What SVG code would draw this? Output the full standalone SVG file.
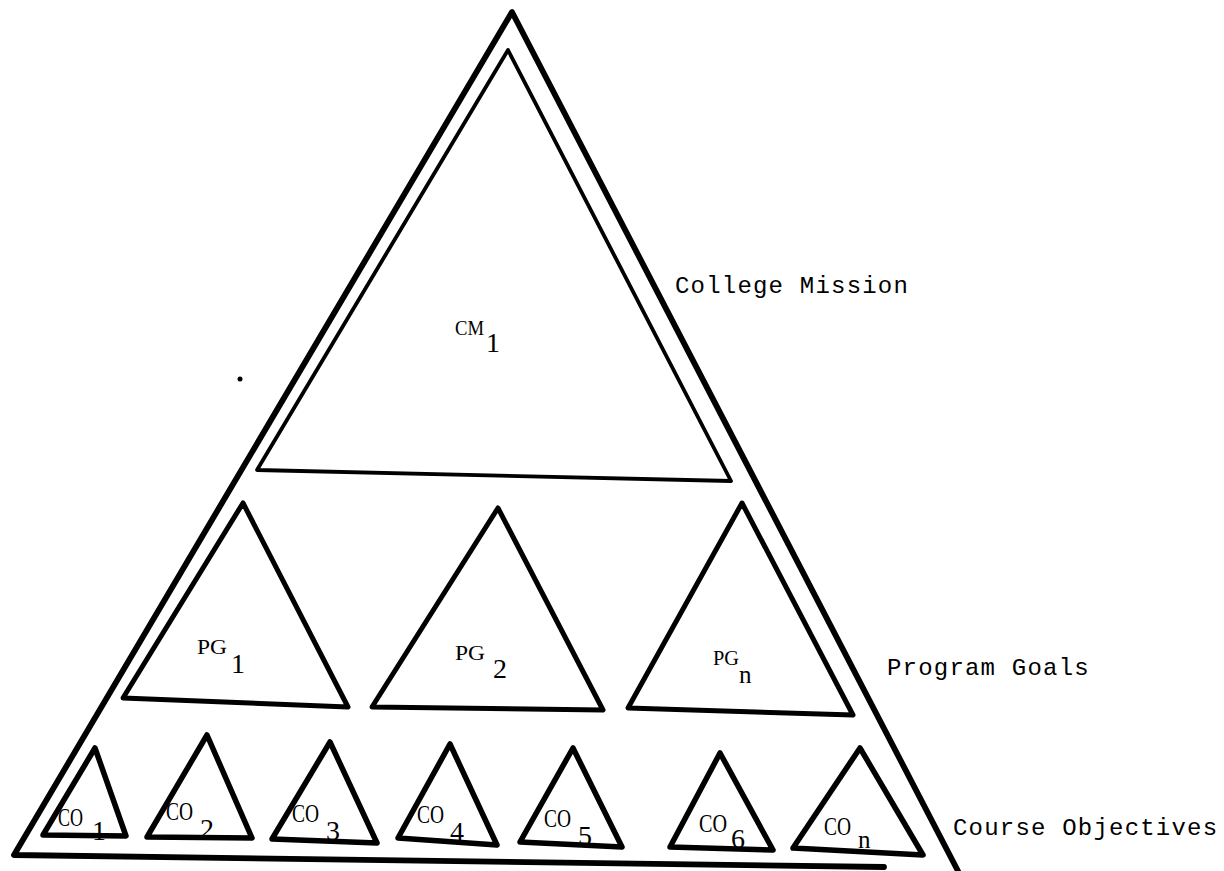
<svg xmlns="http://www.w3.org/2000/svg" width="1224" height="871" viewBox="0 0 1224 871">
<style>
.tri{fill:none;stroke:#000;stroke-linejoin:round;stroke-linecap:round}
.outer{stroke-width:5.8}
.cm{stroke-width:3.8}
.pg{stroke-width:5}
.co{stroke-width:5.5}
.lbl{font-family:"Liberation Mono","DejaVu Sans Mono",monospace;font-size:24px;letter-spacing:1.2px;fill:#000}
.nm{font-family:"Liberation Serif","DejaVu Serif",serif;font-size:22px;fill:#000}
.co-t{font-size:25px}
.sub{font-family:"Liberation Serif","DejaVu Serif",serif;font-size:28px;fill:#000}
</style>
<rect width="1224" height="871" fill="#fff"/>
<g id="outer">
<path class="tri outer" d="M958,871 L512,12 L14,855 L884,867"/>
</g>
<g id="college-mission">
<path class="tri cm" d="M508,50 L731,481 L257,470 Z"/>
<text class="nm" x="455" y="335" textLength="29" lengthAdjust="spacingAndGlyphs">CM</text>
<text class="sub" x="486" y="352">1</text>
</g>
<circle cx="240" cy="379" r="2.5" fill="#000"/>
<g id="pg1">
<path class="tri pg" d="M243,503 L348,707 L123,698 Z"/>
<text class="nm" x="197" y="654" textLength="30" lengthAdjust="spacingAndGlyphs">PG</text>
<text class="sub" x="231" y="673">1</text>
</g>
<g id="pg2">
<path class="tri pg" d="M498,508 L603,710 L372,707 Z"/>
<text class="nm" x="455" y="660" textLength="30" lengthAdjust="spacingAndGlyphs">PG</text>
<text class="sub" x="493" y="678">2</text>
</g>
<g id="pgn">
<path class="tri pg" d="M742,503 L853,715 L628,708 Z"/>
<text class="nm" x="713" y="665" textLength="26" lengthAdjust="spacingAndGlyphs">PG</text>
<text class="sub" x="739" y="683" style="font-size:25px">n</text>
</g>
<g id="co1">
<path class="tri co" d="M95,748 L126,836 L43,835 Z"/>
<text class="nm co-t" x="58" y="826" textLength="25" lengthAdjust="spacingAndGlyphs">CO</text>
<text class="sub" x="92" y="840">1</text>
</g>
<g id="co2">
<path class="tri co" d="M207,735 L252,838 L147,837 Z"/>
<text class="nm co-t" x="166" y="820" textLength="27" lengthAdjust="spacingAndGlyphs">CO</text>
<text class="sub" x="200" y="838">2</text>
</g>
<g id="co3">
<path class="tri co" d="M330,742 L377,843 L272,839 Z"/>
<text class="nm co-t" x="292" y="822" textLength="27" lengthAdjust="spacingAndGlyphs">CO</text>
<text class="sub" x="326" y="840">3</text>
</g>
<g id="co4">
<path class="tri co" d="M450,744 L497,845 L398,838 Z"/>
<text class="nm co-t" x="417" y="823" textLength="27" lengthAdjust="spacingAndGlyphs">CO</text>
<text class="sub" x="450" y="841">4</text>
</g>
<g id="co5">
<path class="tri co" d="M573,748 L622,847 L520,842 Z"/>
<text class="nm co-t" x="544" y="827" textLength="27" lengthAdjust="spacingAndGlyphs">CO</text>
<text class="sub" x="578" y="845">5</text>
</g>
<g id="co6">
<path class="tri co" d="M720,753 L773,850 L670,847 Z"/>
<text class="nm co-t" x="699" y="832" textLength="28" lengthAdjust="spacingAndGlyphs">CO</text>
<text class="sub" x="731" y="848">6</text>
</g>
<g id="con">
<path class="tri co" d="M860,748 L923,855 L793,848 Z"/>
<text class="nm co-t" x="824" y="835" textLength="27" lengthAdjust="spacingAndGlyphs">CO</text>
<text class="sub" x="858" y="848" style="font-size:25px">n</text>
</g>
<g id="labels">
<text class="lbl" x="675" y="293">College Mission</text>
<text class="lbl" x="887" y="675">Program Goals</text>
<text class="lbl" x="953" y="835">Course Objectives</text>
</g>
</svg>
